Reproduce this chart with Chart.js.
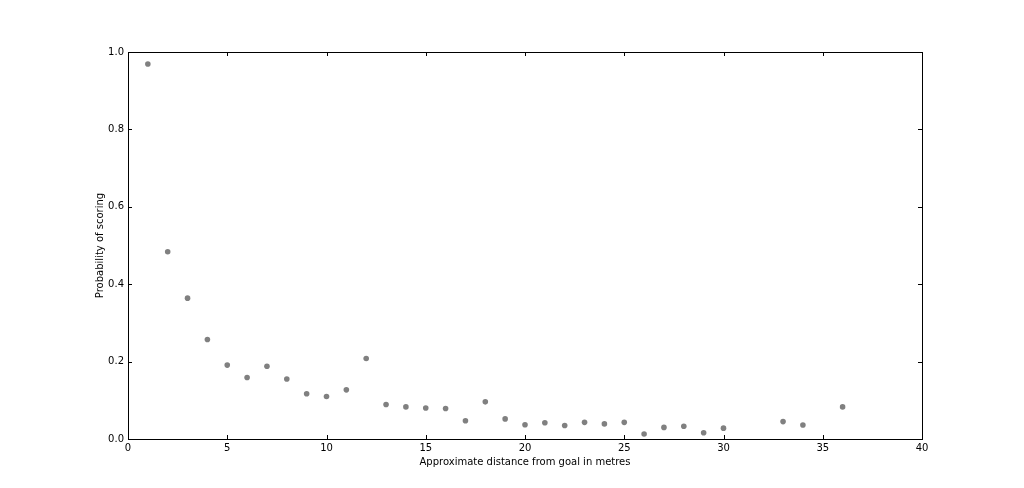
<!DOCTYPE html>
<html>
<head>
<meta charset="utf-8">
<script src="https://cdn.jsdelivr.net/npm/chart.js@4"></script>
<style>
  html, body { margin: 0; padding: 0; background: #fff; }
  #wrap { width: 1024px; height: 488px; }
</style>
</head>
<body>
<div id="wrap"><canvas id="scoreChart"></canvas></div>
<script>
// distance from goal (m) and probability of scoring
const distances = [1, 2, 3, 4, 5, 6, 7, 8, 9, 10, 11, 12, 13, 14, 15, 16, 17, 18, 19, 20,
                   21, 22, 23, 24, 25, 26, 27, 28, 29, 30, 33, 34, 36];
const probabilities = [0.969, 0.484, 0.364, 0.257, 0.191, 0.159, 0.188, 0.155, 0.117, 0.110,
                       0.127, 0.208, 0.089, 0.083, 0.080, 0.079, 0.047, 0.096, 0.052, 0.037,
                       0.042, 0.035, 0.043, 0.039, 0.043, 0.013, 0.030, 0.033, 0.016, 0.028,
                       0.045, 0.036, 0.083];
const xTicks = [0, 5, 10, 15, 20, 25, 30, 35, 40];
const yTicks = [0.0, 0.2, 0.4, 0.6, 0.8, 1.0];

const FONT = 'DejaVu Sans';

// matplotlib-style frame with inward ticks on all four sides
const frameTicks = {
  id: 'frameTicks',
  afterDraw(chart) {
    const { ctx, chartArea: a, scales } = chart;
    const len = 4;
    ctx.save();
    ctx.strokeStyle = '#000';
    ctx.lineWidth = 1;
    ctx.beginPath();
    xTicks.forEach(v => {
      const px = Math.round(scales.x.getPixelForValue(v)) + 0.5;
      ctx.moveTo(px, a.bottom); ctx.lineTo(px, a.bottom - len);
      ctx.moveTo(px, a.top); ctx.lineTo(px, a.top + len);
    });
    yTicks.forEach(v => {
      const py = Math.round(scales.y.getPixelForValue(v)) + 0.5;
      ctx.moveTo(a.left, py); ctx.lineTo(a.left + len, py);
      ctx.moveTo(a.right, py); ctx.lineTo(a.right - len, py);
    });
    ctx.stroke();
    ctx.strokeRect(Math.round(a.left) + 0.5, Math.round(a.top) + 0.5,
                   Math.round(a.right - a.left), Math.round(a.bottom - a.top));
    ctx.restore();
  }
};

const ctx = document.getElementById('scoreChart').getContext('2d');

new Chart(ctx, {
  type: 'scatter',
  data: {
    datasets: [{
      label: 'Probability of scoring',
      data: distances.map((d, i) => ({ x: d, y: probabilities[i] })),
      backgroundColor: '#808080',
      borderColor: '#808080',
      borderWidth: 0,
      pointRadius: 2.8,
      pointHoverRadius: 2.8
    }]
  },
  options: {
    responsive: true,
    maintainAspectRatio: false,
    animation: false,
    layout: { padding: { left: 0, right: 102, top: 52, bottom: 0 } },
    scales: {
      x: {
        type: 'linear',
        min: 0,
        max: 40,
        afterBuildTicks: s => { s.ticks = xTicks.map(v => ({ value: v })); },
        afterFit: s => { s.height = 49; },
        grid: { display: false, drawTicks: false },
        border: { display: false },
        ticks: {
          padding: 3,
          color: '#000',
          font: { family: FONT, size: 10 },
          maxRotation: 0,
          callback: v => String(v)
        },
        title: {
          display: true,
          text: 'Approximate distance from goal in metres',
          color: '#000',
          font: { family: FONT, size: 10 },
          padding: { top: 20, bottom: 20 }
        }
      },
      y: {
        min: 0,
        max: 1,
        afterBuildTicks: s => { s.ticks = yTicks.map(v => ({ value: v })); },
        afterFit: s => { s.width = 128; },
        grid: { display: false, drawTicks: false },
        border: { display: false },
        ticks: {
          padding: 4,
          color: '#000',
          font: { family: FONT, size: 10 },
          callback: v => Number(v).toFixed(1)
        },
        title: {
          display: true,
          text: 'Probability of scoring',
          color: '#000',
          font: { family: FONT, size: 10 },
          padding: { top: 94, bottom: 94 }
        }
      }
    },
    plugins: {
      legend: { display: false },
      tooltip: { enabled: false }
    }
  },
  plugins: [frameTicks]
});
</script>
</body>
</html>
